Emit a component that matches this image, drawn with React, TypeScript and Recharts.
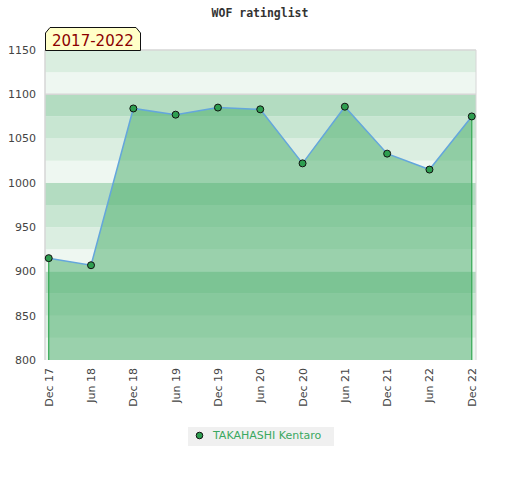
import React from 'react';
import {
  ComposedChart,
  Area,
  Line,
  XAxis,
  YAxis,
  ReferenceArea,
  ReferenceLine,
  Legend,
} from 'recharts';

const periods = ['Dec 17', 'Jun 18', 'Dec 18', 'Jun 19', 'Dec 19', 'Jun 20', 'Dec 20', 'Jun 21', 'Dec 21', 'Jun 22', 'Dec 22'];
const ratings = [915, 907, 1084, 1077, 1085, 1083, 1022, 1086, 1033, 1015, 1075];
const majorTicks = [800, 850, 900, 950, 1000, 1050, 1100, 1150];
const minorTicks = [
  800, 810, 820, 830, 840, 850, 860, 870, 880, 890, 900, 910, 920, 930, 940, 950, 960, 970, 980, 990,
  1000, 1010, 1020, 1030, 1040, 1050, 1060, 1070, 1080, 1090, 1100, 1110, 1120, 1130, 1140, 1150,
];
const gridLines = [1100, 1150];
const bandEdges = [800, 825, 850, 875, 900, 925, 950, 975, 1000, 1025, 1050, 1075, 1100, 1125, 1150];
// colour per band, from the bottom (800-825) upward
const bandColors = [
  '#eef7f1', '#dbeee1', '#c8e6d2', '#b3dcc1',
  '#eef7f1', '#dbeee1', '#c8e6d2', '#b3dcc1',
  '#eef7f1', '#dbeee1', '#c8e6d2', '#b3dcc1',
  '#eef7f1', '#daeee0',
];
const seriesName = 'TAKAHASHI Kentaro';
const chartTitle = 'WOF ratinglist';
const rangeLabel = '2017-2022';

const data = periods.map((p, i) => ({ idx: i, period: p, rating: ratings[i] }));
const xTicks = periods.map((_, i) => i);

const FONT = '"DejaVu Sans", sans-serif';

const XTick = (props: any) => {
  const { x, y, payload } = props;
  const label = periods[payload.value] ?? '';
  return (
    <text
      x={x + 4}
      y={y}
      transform={`rotate(-90, ${x + 4}, ${y})`}
      textAnchor="end"
      fontFamily={FONT}
      fontSize={11}
      fill="#444"
    >
      {label}
    </text>
  );
};

const RightTick = (props: any) => {
  const { x, y, payload } = props;
  const v = payload.value as number;
  return (
    <g>
      <line x1={x - 4} x2={x - 1} y1={y} y2={y} stroke="#333" strokeWidth={1} />
      {v % 50 === 0 ? (
        <text x={x + 6} y={y} dy="0.355em" textAnchor="start" fontFamily={FONT} fontSize={11} fill="#444">
          {v}
        </text>
      ) : null}
    </g>
  );
};

const LegendContent = (props: any) => {
  const item = (props.payload || []).find((p: any) => p.value === seriesName);
  const name = item ? item.value : seriesName;
  return (
    <div
      style={{
        width: 146,
        height: 19,
        background: '#f0f0f0',
        position: 'relative',
        fontFamily: FONT,
        fontSize: 11,
      }}
    >
      <svg width={20} height={19} style={{ position: 'absolute', left: 0, top: 0 }}>
        <circle cx={11.5} cy={8.5} r={3.3} fill="#2e9e50" stroke="#111" strokeWidth={1} />
      </svg>
      <span style={{ position: 'absolute', left: 25, top: 2, color: '#3aa860', whiteSpace: 'nowrap', lineHeight: '14px' }}>
        {name}
      </span>
    </div>
  );
};

export default function App() {
  const first = data[0];
  const last = data[data.length - 1];
  return (
    <div style={{ position: 'absolute', left: 0, top: 0, width: 520, height: 480, background: '#fff' }}>
      <ComposedChart
        width={520}
        height={480}
        data={data}
        margin={{ top: 50, right: 0, bottom: 60, left: 5 }}
      >
        <XAxis
          dataKey="idx"
          type="number"
          domain={[-0.088, 10.1]}
          ticks={xTicks}
          interval={0}
          height={60}
          tick={<XTick />}
          tickLine={false}
          axisLine={false}
          tickSize={4}
          tickMargin={4}
        />
        <YAxis
          yAxisId="left"
          orientation="left"
          width={40}
          domain={[800, 1150]}
          ticks={majorTicks}
          interval={0}
          tickLine={false}
          axisLine={{ stroke: '#d6d6d6', strokeWidth: 1.5 }}
          tickMargin={3}
          tick={{ fill: '#444', fontSize: 11, fontFamily: FONT }}
        />
        <YAxis
          yAxisId="right"
          orientation="right"
          width={44}
          domain={[800, 1150]}
          ticks={minorTicks}
          interval={0}
          tickLine={false}
          tickSize={0}
          tickMargin={0}
          axisLine={{ stroke: '#d6d6d6' }}
          tick={<RightTick />}
        />
        {bandColors.map((c, i) => (
          <ReferenceArea
            key={`band-${i}`}
            yAxisId="left"
            y1={bandEdges[i]}
            y2={bandEdges[i + 1]}
            fill={c}
            fillOpacity={1}
            stroke="none"
          />
        ))}
        {gridLines.map((t) => (
          <ReferenceLine key={`grid-${t}`} yAxisId="left" y={t} stroke="#d6d6d6" strokeWidth={1.5} />
        ))}
        <Area
          yAxisId="left"
          type="linear"
          dataKey="rating"
          stroke="none"
          fill="rgb(69,171,103)"
          fillOpacity={0.5}
          legendType="none"
          isAnimationActive={false}
          dot={false}
          activeDot={false}
        />
        <ReferenceLine
          yAxisId="left"
          segment={[{ x: first.idx, y: 800 }, { x: first.idx, y: first.rating }]}
          stroke="#33a852"
          strokeWidth={1.2}
        />
        <ReferenceLine
          yAxisId="left"
          segment={[{ x: last.idx, y: 800 }, { x: last.idx, y: last.rating }]}
          stroke="#33a852"
          strokeWidth={1.2}
        />
        <Line
          yAxisId="left"
          type="linear"
          dataKey="rating"
          name={seriesName}
          stroke="#64a6dc"
          strokeWidth={1.5}
          dot={{ r: 3.5, fill: '#2e9e50', stroke: '#111', strokeWidth: 1 }}
          activeDot={false}
          isAnimationActive={false}
        />
        <Legend
          layout="vertical"
          align="center"
          verticalAlign="middle"
          content={<LegendContent />}
          wrapperStyle={{ position: 'absolute', left: 188, top: 427, width: 146, height: 19 }}
        />
      </ComposedChart>
      <svg width={520} height={60} style={{ position: 'absolute', left: 0, top: 0, pointerEvents: 'none' }}>
        <text
          x={260}
          y={17}
          textAnchor="middle"
          fontFamily='"DejaVu Sans Mono", monospace'
          fontWeight="bold"
          fontSize={11.5}
          fill="#333"
        >
          {chartTitle}
        </text>
        <path
          d="M45.5,50.5 L45.5,33 L50,27.5 L136,27.5 L140.5,33 L140.5,50.5 Z"
          fill="#ffffc8"
          stroke="#111"
          strokeWidth={1}
        />
        <text x={52} y={45.5} fontFamily={FONT} fontSize={15} fill="#8b0000">
          {rangeLabel}
        </text>
      </svg>
    </div>
  );
}
